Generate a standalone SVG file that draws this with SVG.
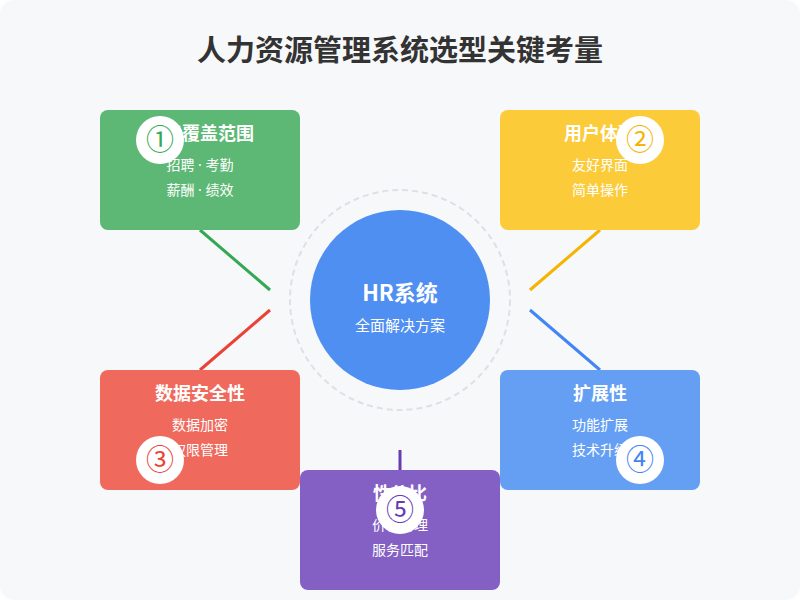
<svg xmlns="http://www.w3.org/2000/svg" width="800" height="600" viewBox="0 0 800 600">
<style>
text{font-family:"Noto Sans CJK SC","Noto Sans",sans-serif;text-anchor:middle}
.t{font-size:18px;font-weight:bold;fill:#fff}
.s{font-size:14px;fill:#fff}
.d{font-family:"Noto Sans",sans-serif}
.n{font-size:28px}
.c{fill:#fff}
</style>
<rect x="0" y="0" width="800" height="600" rx="14" fill="#f7f8fa"/>
<text x="400" y="61" style="font-size:29px;font-weight:bold;fill:#333">人力资源管理系统选型关键考量</text>
<g id="connectors" stroke-width="3">
<line x1="200" y1="230" x2="270" y2="290" stroke="#34a853"/>
<line x1="600" y1="230" x2="530" y2="290" stroke="#f4b400"/>
<line x1="270" y1="310" x2="200" y2="370" stroke="#ea4335"/>
<line x1="530" y1="310" x2="600" y2="370" stroke="#4285f4"/>
<line x1="400" y1="450" x2="400" y2="470" stroke="#673ab7"/>
</g>
<g id="center">
<circle cx="400" cy="300" r="110" fill="none" stroke="#dde0e5" stroke-width="2" stroke-dasharray="6,4"/>
<circle cx="400" cy="300" r="90" fill="#4f8ff2"/>
<text x="400" y="301" style="font-size:22px;font-weight:bold;fill:#fff">HR系统</text>
<text x="400" y="331" style="font-size:15px;fill:#fff">全面解决方案</text>
</g>
<g id="n1">
<rect x="100" y="110" width="200" height="120" rx="8" fill="#5cb874"/>
<text class="t" x="200" y="140">功能覆盖范围</text>
<text class="s" x="200" y="170">招聘<tspan class="d"> · </tspan>考勤</text>
<text class="s" x="200" y="195">薪酬<tspan class="d"> · </tspan>绩效</text>
<circle class="c" cx="160" cy="140" r="24"/>
<text class="n" x="160" y="150" fill="#34a853">①</text>
</g>
<g id="n2">
<rect x="500" y="110" width="200" height="120" rx="8" fill="#fccb3a"/>
<text class="t" x="600" y="140">用户体验</text>
<text class="s" x="600" y="170">友好界面</text>
<text class="s" x="600" y="195">简单操作</text>
<circle class="c" cx="640" cy="140" r="24"/>
<text class="n" x="640" y="150" fill="#f4b400">②</text>
</g>
<g id="n3">
<rect x="100" y="370" width="200" height="120" rx="8" fill="#ef6a5d"/>
<text class="t" x="200" y="400">数据安全性</text>
<text class="s" x="200" y="430">数据加密</text>
<text class="s" x="200" y="455">权限管理</text>
<circle class="c" cx="160" cy="460" r="24"/>
<text class="n" x="160" y="470" fill="#ea4335">③</text>
</g>
<g id="n4">
<rect x="500" y="370" width="200" height="120" rx="8" fill="#659ff3"/>
<text class="t" x="600" y="400">扩展性</text>
<text class="s" x="600" y="430">功能扩展</text>
<text class="s" x="600" y="455">技术升级</text>
<circle class="c" cx="640" cy="460" r="24"/>
<text class="n" x="640" y="470" fill="#4285f4">④</text>
</g>
<g id="n5">
<rect x="300" y="470" width="200" height="120" rx="8" fill="#845fc4"/>
<text class="t" x="400" y="500">性价比</text>
<text class="s" x="400" y="530">价格合理</text>
<text class="s" x="400" y="555">服务匹配</text>
<circle class="c" cx="400" cy="510" r="24"/>
<text class="n" x="400" y="520" fill="#673ab7">⑤</text>
</g>
</svg>
